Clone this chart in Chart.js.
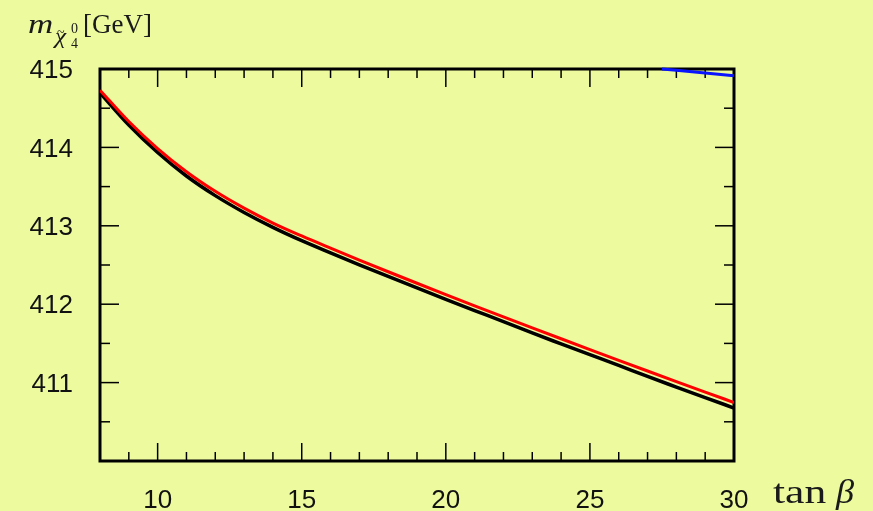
<!DOCTYPE html>
<html>
<head>
<meta charset="utf-8">
<script src="https://cdn.jsdelivr.net/npm/chart.js@4"></script>
<style>
    html, body { margin: 0; padding: 0; background: #eefa9e; }
    #wrap { width: 873px; height: 511px; }
</style>
</head>
<body>
<div id="wrap"><canvas id="massChart" width="873" height="511"></canvas></div>
<script>
// values
const tanBeta = [8, 9, 10, 11, 12, 13, 14, 15, 16, 17, 18, 19, 20, 21, 22, 23, 24, 25, 26, 27, 28, 29, 30];
const redMass = [414.73, 414.33, 413.985, 413.69, 413.44, 413.225, 413.035, 412.87, 412.715, 412.563, 412.414, 412.267,
                 412.122, 411.979, 411.838, 411.698, 411.559, 411.421, 411.284, 411.148, 411.013, 410.879, 410.746];
const blackMass = [414.695, 414.285, 413.935, 413.635, 413.385, 413.17, 412.98, 412.81, 412.655, 412.503, 412.354, 412.207,
                   412.062, 411.919, 411.778, 411.633, 411.494, 411.356, 411.219, 411.078, 410.943, 410.809, 410.676];
const blueTanBeta = [27.5, 28, 29, 30];
const blueMass = [415.0, 414.983, 414.949, 414.915];

const xTicks = [10, 15, 20, 25, 30];
const yTicks = [411, 412, 413, 414, 415];
const xMinor = [9, 11, 12, 13, 14, 16, 17, 18, 19, 21, 22, 23, 24, 26, 27, 28, 29];
const yMinor = [410.5, 411.5, 412.5, 413.5, 414.5];

const toPoints = (xs, ys) => xs.map((x, i) => ({ x: x, y: ys[i] }));

// stretched text, used for the LaTeX-looking axis titles
function drawText(ctx, txt, x, y, font, sx) {
    ctx.save();
    ctx.translate(x, y);
    ctx.scale(sx, 1);
    ctx.font = font;
    ctx.fillText(txt, 0, 0);
    ctx.restore();
}

// frame and inward ticks, drawn under the curves
const framePlugin = {
    id: 'frame',
    beforeDatasetsDraw(chart) {
        const { ctx, chartArea: a, scales } = chart;
        ctx.save();
        ctx.strokeStyle = '#000';
        ctx.lineWidth = 1.5;
        const tick = (x1, y1, x2, y2) => {
            ctx.beginPath();
            ctx.moveTo(x1, y1);
            ctx.lineTo(x2, y2);
            ctx.stroke();
        };
        xTicks.forEach(v => {
            const px = scales.x.getPixelForValue(v);
            tick(px, a.bottom, px, a.bottom - 18);
            tick(px, a.top, px, a.top + 18);
        });
        xMinor.forEach(v => {
            const px = scales.x.getPixelForValue(v);
            tick(px, a.bottom, px, a.bottom - 9);
            tick(px, a.top, px, a.top + 9);
        });
        yTicks.forEach(v => {
            const py = scales.y.getPixelForValue(v);
            tick(a.left, py, a.left + 19, py);
            tick(a.right, py, a.right - 19, py);
        });
        yMinor.forEach(v => {
            const py = scales.y.getPixelForValue(v);
            tick(a.left, py, a.left + 10, py);
            tick(a.right, py, a.right - 10, py);
        });
        ctx.lineWidth = 3;
        ctx.strokeRect(a.left, a.top, a.right - a.left, a.bottom - a.top);
        ctx.restore();
    },
    afterDraw(chart) {
        const ctx = chart.ctx;
        ctx.save();
        ctx.fillStyle = '#1a1a1a';
        ctx.textBaseline = 'alphabetic';
        ctx.textAlign = 'left';
        // y axis title: m_{chi~0_4}[GeV]
        drawText(ctx, 'm', 28, 33, 'italic 28px "Liberation Serif"', 1.25);
        drawText(ctx, 'χ', 55, 43, 'italic 21px "Liberation Serif"', 1.2);
        drawText(ctx, '~', 57, 37, '14px "Liberation Serif"', 1.0);
        drawText(ctx, '0', 71, 33, '14px "Liberation Serif"', 1.0);
        drawText(ctx, '4', 71, 48, '14px "Liberation Serif"', 1.0);
        drawText(ctx, '[GeV]', 83, 33, '27px "Liberation Serif"', 1.0);
        // x axis title: tan beta
        drawText(ctx, 'tan', 773, 503, '33px "Liberation Serif"', 1.32);
        drawText(ctx, 'β', 836, 503, 'italic 33px "Liberation Serif"', 1.1);
        ctx.restore();
    }
};

const ctx = document.getElementById('massChart').getContext('2d');
new Chart(ctx, {
    type: 'line',
    data: {
        datasets: [
            {
                data: toPoints(blueTanBeta, blueMass),
                borderColor: '#0a14ff',
                borderWidth: 3,
                pointRadius: 0,
                clip: 2
            },
            {
                data: toPoints(tanBeta, redMass),
                borderColor: '#ff0000',
                borderWidth: 3,
                cubicInterpolationMode: 'monotone',
                pointRadius: 0
            },
            {
                data: toPoints(tanBeta, blackMass),
                borderColor: '#000000',
                borderWidth: 3.5,
                cubicInterpolationMode: 'monotone',
                pointRadius: 0
            }
        ]
    },
    options: {
        responsive: false,
        devicePixelRatio: 1,
        animation: false,
        layout: { padding: { top: 69, right: 139, left: 0, bottom: 0 } },
        plugins: {
            legend: { display: false },
            tooltip: { enabled: false }
        },
        scales: {
            x: {
                type: 'linear',
                min: 8,
                max: 30,
                grid: { display: false, drawTicks: false },
                border: { display: false },
                afterBuildTicks: s => { s.ticks = xTicks.map(v => ({ value: v })); },
                afterFit: s => { s.height = 50; },
                ticks: {
                    padding: 24,
                    color: '#111',
                    maxRotation: 0,
                    font: { family: '"Liberation Sans", Arial, sans-serif', size: 26 }
                }
            },
            y: {
                type: 'linear',
                min: 410,
                max: 415,
                grid: { display: false, drawTicks: false },
                border: { display: false },
                afterBuildTicks: s => { s.ticks = yTicks.map(v => ({ value: v })); },
                afterFit: s => { s.width = 100; },
                ticks: {
                    padding: 27,
                    labelOffset: 2,
                    color: '#111',
                    font: { family: '"Liberation Sans", Arial, sans-serif', size: 26 }
                }
            }
        }
    },
    plugins: [framePlugin]
});
</script>
</body>
</html>
